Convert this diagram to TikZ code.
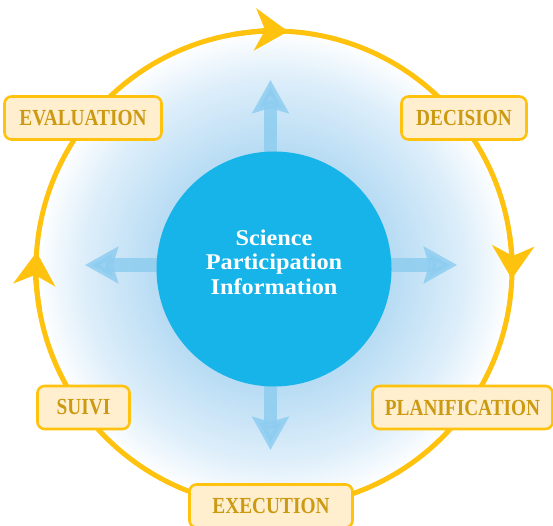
\documentclass[tikz,border=0pt]{standalone}
\usepackage{fontspec}
\setmainfont{Liberation Serif}
\newfontfamily\stagefont[FakeStretch=0.84]{Liberation Serif}
\newfontfamily\corefont[FakeStretch=1.08]{Liberation Serif}
\usepackage{tikz}
\usetikzlibrary{arrows.meta}
\usetikzlibrary{positioning}

\definecolor{ringgold}{HTML}{FFC20E}
\definecolor{stagefill}{HTML}{FFEFCF}
\definecolor{stagetext}{HTML}{CC9A12}
\definecolor{coreblue}{HTML}{16B4E8}
\definecolor{rayblue}{HTML}{8ECDF0}
\definecolor{glowblue}{HTML}{B8DCF4}
\definecolor{glowpale}{HTML}{DDEEFA}

\pgfdeclareradialshading{glow}{\pgfpoint{0bp}{0bp}}{color(0bp)=(glowblue); color(12.5bp)=(glowblue); color(20bp)=(glowpale); color(25bp)=(white); color(50bp)=(white)}

\tikzset{
	stage/.style={draw=ringgold, line width=2.6pt, fill=stagefill, rounded corners=7pt,
	              text=stagetext, font=\stagefont\bfseries\fontsize{23}{25}\selectfont,
	              minimum height=43pt, inner xsep=12pt},
	ring/.style={draw=ringgold, line width=5pt},
}

\begin{document}
\begin{tikzpicture}[x=1pt, y=1pt]
	\useasboundingbox (0,0) rectangle (553,525);
	\coordinate (hub) at (274,256);

	% halo behind the core
	\shade[shading=glow] (hub) circle (238pt);

	% rays out of the core
	\coordinate (rayN) at (270.5,445);
	\coordinate (rayS) at (270.5,75);
	\coordinate (rayW) at (85,260);
	\coordinate (rayE) at (457,260);
	\begin{scope}[draw=rayblue, line width=13pt, opacity=0.85,
	              >={Stealth[length=33pt, width=36pt, inset=5pt, rayblue]}]
		\draw[->] (hub -| rayN) -- (rayN);
		\draw[->] (hub -| rayS) -- (rayS);
		\draw[->] (hub |- rayW) -- (rayW);
		\draw[->] (hub |- rayE) -- (rayE);
	\end{scope}

	\node[circle, fill=coreblue, minimum size=235pt, inner sep=0pt] (core) at (hub) {};
	\node[align=center, text=white, font=\corefont\bfseries\fontsize{22.5}{24.5}\selectfont]
		(corelabel) at ([yshift=7pt]core.center) {Science\\Participation\\Information};

	% the cycle
	\draw[ring] (hub) circle (238pt);
	\begin{scope}[ring, >={Stealth[length=33pt, width=42pt, inset=10pt, ringgold]}]
		\draw[->] (hub) ++(100:238pt) arc[start angle=100, end angle=86.6, radius=238pt];
		\draw[->] (hub) ++(8:238pt) arc[start angle=8, end angle=-2.4, radius=238pt];
		\draw[->] (hub) ++(190:238pt) arc[start angle=190, end angle=175.9, radius=238pt];
	\end{scope}

	\begin{scope}[every node/.style={stage}]
		\node[minimum width=157pt] (evaluation) at (83,407) {EVALUATION};
		\node[minimum width=125pt] (decision) at (464,407) {DECISION};
		\node[minimum width=180pt] (planification) at (462.5,117.5) {PLANIFICATION};
		\node[minimum width=163pt] (execution) at (271,19) {EXECUTION};
		\node[minimum width=92pt] (suivi) at (83.5,117.5) {SUIVI};
	\end{scope}
\end{tikzpicture}
\end{document}
